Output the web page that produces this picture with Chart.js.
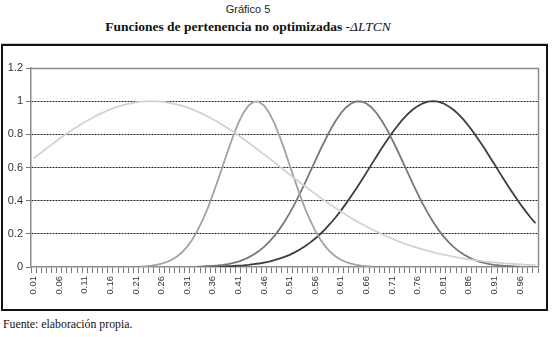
<!DOCTYPE html>
<html><head><meta charset="utf-8">
<script src="https://cdn.jsdelivr.net/npm/chart.js@4/dist/chart.umd.min.js"></script>
<style>
html,body{margin:0;padding:0;background:#fff;width:553px;height:337px;overflow:hidden;position:relative}
#t1{position:absolute;left:0;width:496px;top:3px;text-align:center;font-family:"Liberation Sans",Arial,sans-serif;font-size:11px;color:#222}
#t2{position:absolute;left:0;width:496px;top:19px;text-align:center;font-family:"Liberation Serif","Times New Roman",serif;font-weight:bold;font-size:13.5px;color:#111}
#t2 i{font-weight:normal}
#box{position:absolute;left:1px;top:44px;width:543px;height:263px;border:2px solid #111;box-shadow:0 -1px 0 #ccc}
#foot{position:absolute;left:3px;top:317px;font-family:"Liberation Serif","Times New Roman",serif;font-size:11.8px;color:#111}
canvas{position:absolute;left:0;top:0}
</style></head>
<body>
<div id="t1">Gráfico 5</div>
<div id="t2">Funciones de pertenencia no optimizadas <i>-ΔLTCN</i></div>
<div id="box"></div>
<div id="foot">Fuente: elaboración propia.</div>
<canvas id="c" width="553" height="337"></canvas>
<script>
const categories = ["0.01","0.02","0.03","0.04","0.05","0.06","0.07","0.08","0.09","0.10",
"0.11","0.12","0.13","0.14","0.15","0.16","0.17","0.18","0.19","0.20",
"0.21","0.22","0.23","0.24","0.25","0.26","0.27","0.28","0.29","0.30",
"0.31","0.32","0.33","0.34","0.35","0.36","0.37","0.38","0.39","0.40",
"0.41","0.42","0.43","0.44","0.45","0.46","0.47","0.48","0.49","0.50",
"0.51","0.52","0.53","0.54","0.55","0.56","0.57","0.58","0.59","0.60",
"0.61","0.62","0.63","0.64","0.65","0.66","0.67","0.68","0.69","0.70",
"0.71","0.72","0.73","0.74","0.75","0.76","0.77","0.78","0.79","0.80",
"0.81","0.82","0.83","0.84","0.85","0.86","0.87","0.88","0.89","0.90",
"0.91","0.92","0.93","0.94","0.95","0.96","0.97","0.98","0.99"];

const serie1 = [0.655,0.679,0.703,0.726,0.749,0.772,0.794,0.815,0.835,0.855,
0.874,0.891,0.908,0.923,0.937,0.950,0.962,0.972,0.980,0.987,
0.993,0.997,0.999,1.000,0.999,0.997,0.993,0.987,0.980,0.972,
0.962,0.950,0.937,0.923,0.908,0.891,0.874,0.855,0.835,0.815,
0.794,0.772,0.749,0.726,0.703,0.679,0.655,0.631,0.607,0.582,
0.558,0.534,0.510,0.487,0.464,0.441,0.418,0.397,0.375,0.355,
0.334,0.315,0.296,0.278,0.261,0.244,0.228,0.213,0.198,0.184,
0.171,0.158,0.146,0.135,0.125,0.115,0.106,0.097,0.089,0.081,
0.074,0.068,0.062,0.056,0.051,0.046,0.042,0.038,0.034,0.031,
0.028,0.025,0.022,0.020,0.018,0.016,0.014,0.013,0.011];

const serie2 = [null,null,null,null,null,null,null,null,null,null,
null,null,null,null,null,null,null,null,null,null,
null,0.003,0.005,0.008,0.013,0.020,0.030,0.044,0.063,0.089,
0.123,0.166,0.219,0.282,0.354,0.436,0.524,0.615,0.706,0.792,
0.869,0.931,0.974,0.997,0.997,0.974,0.931,0.869,0.792,0.706,
0.615,0.524,0.436,0.354,0.282,0.219,0.166,0.123,0.089,0.063,
0.044,0.030,0.020,0.013,0.008,0.005,0.003,null,null,null,
null,null,null,null,null,null,null,null,null,null,
null,null,null,null,null,null,null,null,null,null,
null,null,null,null,null,null,null,null,null];

const serie3 = [null,null,null,null,null,null,null,null,null,null,
null,null,null,null,null,null,null,null,null,null,
null,null,null,null,null,null,null,null,null,null,
null,null,0.002,0.003,0.005,0.007,0.009,0.013,0.018,0.025,
0.033,0.044,0.058,0.075,0.096,0.121,0.151,0.186,0.227,0.273,
0.325,0.381,0.442,0.506,0.573,0.640,0.707,0.770,0.830,0.882,
0.927,0.962,0.986,0.998,0.998,0.986,0.962,0.927,0.882,0.830,
0.770,0.707,0.640,0.573,0.506,0.442,0.381,0.325,0.273,0.227,
0.186,0.151,0.121,0.096,0.075,0.058,0.044,0.033,0.025,0.018,
0.013,0.009,0.007,0.005,0.003,0.002,null,null,null];

const serie4 = [null,null,null,null,null,null,null,null,null,null,
null,null,null,null,null,null,null,null,null,null,
null,null,null,null,null,null,null,null,null,null,
null,null,null,0.001,0.002,0.002,0.003,0.004,0.005,0.006,
0.008,0.010,0.013,0.017,0.021,0.027,0.033,0.041,0.050,0.061,
0.073,0.088,0.105,0.125,0.147,0.172,0.199,0.230,0.264,0.300,
0.340,0.382,0.426,0.472,0.520,0.569,0.619,0.668,0.717,0.763,
0.808,0.849,0.887,0.920,0.948,0.970,0.987,0.997,1.000,0.997,
0.987,0.970,0.948,0.920,0.887,0.849,0.808,0.763,0.717,0.668,
0.619,0.569,0.520,0.472,0.426,0.382,0.340,0.300,0.264];

const yTicks = [0, 0.2, 0.4, 0.6, 0.8, 1, 1.2];
const labelEvery = 5;

const frame = {
  id:'frame',
  afterDatasetsDraw(chart){
    const {ctx, chartArea:a} = chart;
    ctx.save();
    ctx.strokeStyle='#8c8c8c'; ctx.lineWidth=1.5;
    ctx.beginPath();
    ctx.moveTo(a.left, a.top+0.5); ctx.lineTo(a.right+0.5, a.top+0.5); ctx.lineTo(a.right+0.5, a.bottom);
    ctx.stroke();
    ctx.restore();
  }
};

new Chart(document.getElementById('c'), {
  type:'line',
  data:{
    labels: categories,
    datasets:[
      {data:serie1, borderColor:'#d2d2d2'},
      {data:serie2, borderColor:'#a2a2a2'},
      {data:serie3, borderColor:'#787878'},
      {data:serie4, borderColor:'#3c3c3c'}
    ].map(d=>Object.assign(d,{borderWidth:1.8,pointRadius:0,tension:0,fill:false,spanGaps:false}))
  },
  options:{
    responsive:false, animation:false,
    layout:{padding:{left:0,top:68,right:15,bottom:30}},
    plugins:{legend:{display:false},tooltip:{enabled:false}},
    scales:{
      x:{
        offset:true,
        afterFit(s){s.height=40;},
        grid:{offset:true,drawOnChartArea:false,drawTicks:true,tickLength:6,color:'#777',tickColor:'#777'},
        border:{color:'#8c8c8c',width:1.5},
        ticks:{autoSkip:false,minRotation:90,maxRotation:90,padding:3,color:'#333',
          font:{family:'"Liberation Sans", Arial, sans-serif',size:9.5},
          callback:(v,i)=> i%labelEvery===0 ? categories[i] : ''}
      },
      y:{
        min:0,max:1.2,
        afterFit(s){s.width=31;},
        afterBuildTicks(s){s.ticks=yTicks.map(v=>({value:v}));},
        grid:{
          color:c=> (c.tick && c.tick.value===0) ? 'rgba(0,0,0,0)' : (c.tick && c.tick.value>=1.2 ? '#8c8c8c' : '#222'),
          lineWidth:1, tickLength:5, tickColor:'#777'
        },
        border:{color:'#8c8c8c',width:1.5,
          dash:c=> (c.tick && c.tick.value>=1.2) ? [] : [2,1]},
        ticks:{padding:3,color:'#333',font:{family:'"Liberation Sans", Arial, sans-serif',size:11},
          callback:v=>String(Math.round(v*10)/10)}
      }
    }
  },
  plugins:[frame]
});
</script>
</body></html>
